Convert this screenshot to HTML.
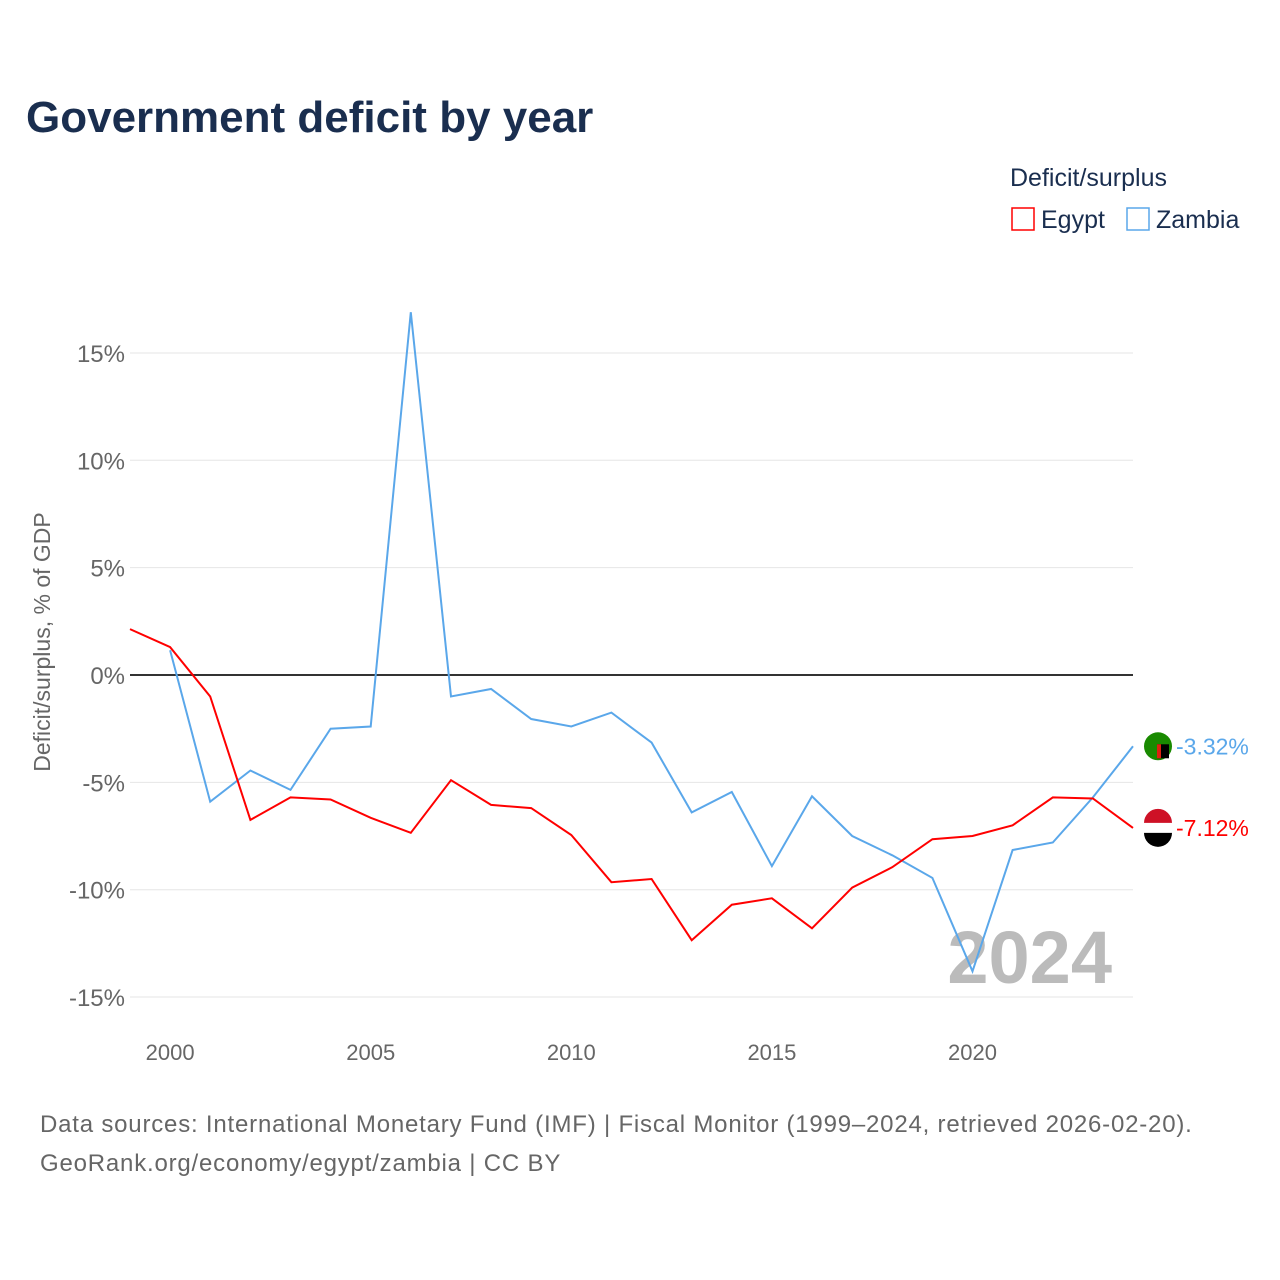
<!DOCTYPE html>
<html><head><meta charset="utf-8">
<style>
body{margin:0;background:#fff;font-family:"Liberation Sans",sans-serif;}
#wrap{position:relative;width:1280px;height:1280px;overflow:hidden;}
</style></head>
<body>
<div id="wrap">
<svg id="chart" width="1280" height="1280" xmlns="http://www.w3.org/2000/svg">
<text x="26" y="132" font-size="44" font-weight="bold" fill="#1a2e4f">Government deficit by year</text>
<text x="1010" y="186" font-size="25" fill="#1a2e4f">Deficit/surplus</text>
<g><rect x="1012" y="208" width="22" height="22" fill="none" stroke="#f00" stroke-width="1.5"/><text x="1041" y="228" font-size="25" fill="#1a2e4f">Egypt</text></g>
<g><rect x="1127" y="208" width="22" height="22" fill="none" stroke="#5aa7ea" stroke-width="1.5"/><text x="1156" y="228" font-size="25" fill="#1a2e4f">Zambia</text></g>
<text transform="translate(50,642) rotate(-90)" text-anchor="middle" font-size="23" fill="#666">Deficit/surplus, % of GDP</text>
<text x="1112" y="983" text-anchor="end" font-size="74" font-weight="bold" fill="#bbb">2024</text>
<g id="grid"></g><g id="lines"></g>
<text x="40" y="1132" font-size="24" fill="#666" letter-spacing="0.8">Data sources: International Monetary Fund (IMF) | Fiscal Monitor (1999–2024, retrieved 2026-02-20).</text>
<text x="40" y="1171" font-size="24" fill="#666" letter-spacing="0.8">GeoRank.org/economy/egypt/zambia | CC BY</text>
</svg>
</div>
<script>
const years=[1999,2000,2001,2002,2003,2004,2005,2006,2007,2008,2009,2010,2011,2012,2013,2014,2015,2016,2017,2018,2019,2020,2021,2022,2023,2024];
const egypt=[2.14,1.3,-1.0,-6.75,-5.7,-5.8,-6.65,-7.35,-4.9,-6.05,-6.2,-7.45,-9.65,-9.5,-12.35,-10.7,-10.4,-11.8,-9.9,-8.95,-7.65,-7.5,-7.0,-5.7,-5.75,-7.12];
const zambia=[null,1.15,-5.9,-4.45,-5.35,-2.5,-2.4,16.9,-1.0,-0.65,-2.05,-2.4,-1.75,-3.15,-6.4,-5.45,-8.9,-5.65,-7.5,-8.4,-9.45,-13.8,-8.15,-7.8,-5.7,-3.32];
const yTicks=[15,10,5,0,-5,-10,-15];
const xTicks=[2000,2005,2010,2015,2020];
const NS="http://www.w3.org/2000/svg";
const X=y=>130+(y-1999)*(1003/25);
const Y=v=>675-v*21.47;
const grid=document.getElementById('grid'),lines=document.getElementById('lines');
function mk(tag,attrs,parent){const e=document.createElementNS(NS,tag);for(const k in attrs)e.setAttribute(k,attrs[k]);parent.appendChild(e);return e;}
yTicks.forEach(t=>{
 const l=mk('line',{x1:130,x2:1133,y1:Y(t),y2:Y(t),stroke:t===0?'#333':'#e6e6e6','stroke-width':t===0?2:1},grid);
 
 
 const tx=mk('text',{x:125,y:Y(t)+9,'text-anchor':'end','font-size':24,fill:'#666'},grid);
 tx.textContent=t+'%';
 
 
});
xTicks.forEach(t=>{
 const tx=mk('text',{x:X(t),y:1060,'text-anchor':'middle','font-size':22,fill:'#666'},grid);
 tx.textContent=t;
 
 
});
function series(vals,color,name){
 let d='';vals.forEach((v,i)=>{if(v===null)return;d+=(d?'L':'M')+X(years[i]).toFixed(1)+','+Y(v).toFixed(1);});
 const p=mk('path',{d:d,fill:'none',stroke:color,'stroke-width':2},lines);
 
 
 const last=vals[vals.length-1],lx=X(years[years.length-1]),ly=Y(last);
 const c=mk('circle',{cx:lx+25,cy:ly,r:14,fill:name==='egypt'?'#fff':'#198a00'},lines);
 
 
 if(name==='egypt'){mk('path',{d:`M${lx+11},${ly-5}A14,14 0 0 1 ${lx+39},${ly-5}Z`,fill:'#ce1126'},lines);mk('path',{d:`M${lx+11},${ly+5}A14,14 0 0 0 ${lx+39},${ly+5}Z`,fill:'#000'},lines);}
 else{mk('rect',{x:lx+24,y:ly-2,width:12,height:14,fill:'#000'},lines);mk('rect',{x:lx+24,y:ly-2,width:4,height:14,fill:'#de2010'},lines);}
 const tx=mk('text',{x:lx+43,y:ly+8,'font-size':23,fill:color},lines);
 tx.textContent=last.toFixed(2)+'%';
 
 
}
series(zambia,'#5aa7ea','zambia');
series(egypt,'#f00','egypt');
</script>
</body></html>
